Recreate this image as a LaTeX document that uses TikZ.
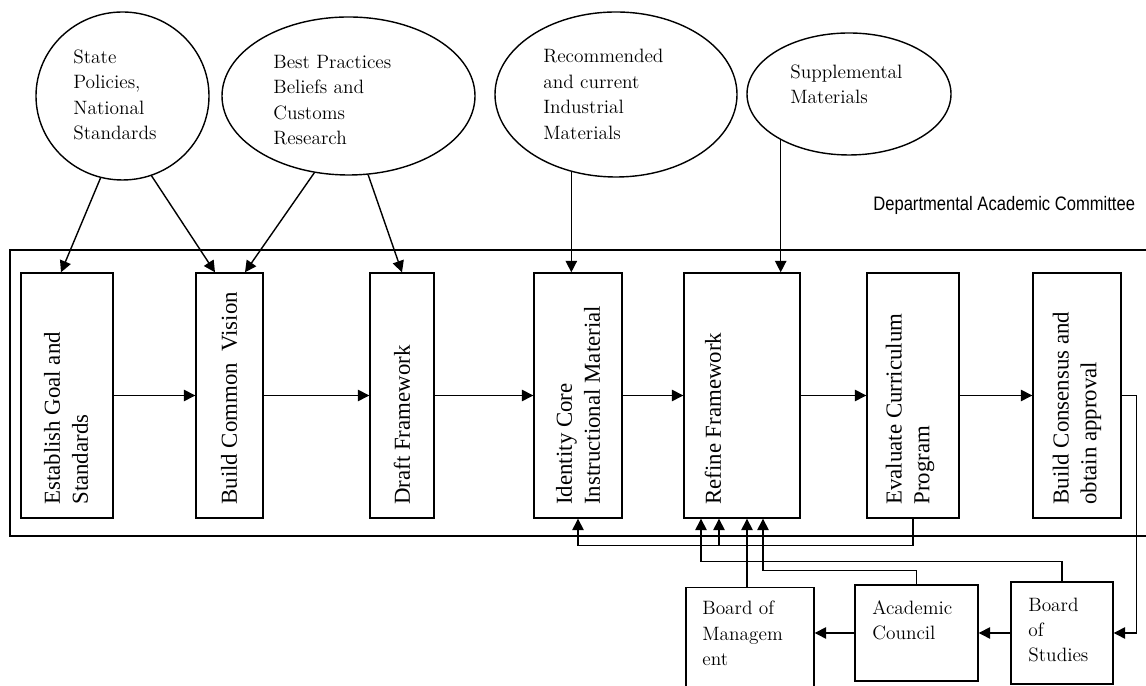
\documentclass[tikz,border=0pt]{standalone}
\usepackage{fontspec}
\newfontfamily\timesf{Liberation Serif}
\newfontfamily\narrowf{Liberation Sans}[FakeStretch=0.85]
\usetikzlibrary{shapes.geometric,arrows.meta}
\begin{document}
\begin{tikzpicture}
        \tikzset{box/.style={draw, line width=.8pt, inner sep=0em, minimum height=4.9cm},
          bub/.style={draw, ellipse, line width=.8pt, inner sep=0em},
          txt/.style={anchor=west, inner sep=0em, align=left, font=\fontsize{11}{14.5}\selectfont},
          vtxt/.style={anchor=west, rotate=90, inner sep=0em, align=left, font=\timesf\fontsize{13}{15.9}\selectfont},
          arr/.style={line width=.8pt, -{Triangle[length=6.5pt,width=6.5pt]}}}
        \useasboundingbox (0,0) rectangle (22.92,13.72);
        \clip (0,0) rectangle (22.92,13.72);

        % inputs
        \draw node[bub, minimum width=3.46cm, minimum height=3.36cm] (state) at (2.45,11.8) {};
        \draw node[bub, minimum width=5.06cm, minimum height=3.16cm] (best) at (6.97,11.8) {};
        \draw node[bub, minimum width=4.84cm, minimum height=3.3cm] (rec) at (12.32,11.83) {};
        \draw node[bub, minimum width=4.08cm, minimum height=2.44cm] (sup) at (16.98,11.84) {};
        \node[txt] (stateT) at (1.46,11.82) {State\\Policies,\\National\\Standards};
        \node[txt] (bestT) at (5.46,11.72) {Best Practices\\Beliefs and\\Customs\\Research};
        \node[txt] (recT) at (10.86,11.83) {Recommended\\and current\\Industrial\\Materials};
        \node[txt] (supT) at (15.8,12.03) {Supplemental\\Materials};

        % committee
        \draw[line width=.8pt] (0.2,3.0) rectangle (23.1,8.72);
        \node[anchor=west, inner sep=0em, font=\narrowf\fontsize{11.1}{13}\selectfont] (dept) at (17.46,9.62) {Departmental Academic Committee};

        \draw node[box, minimum width=1.84cm] (est) at (1.34,5.81) {};
        \draw node[box, minimum width=1.34cm] (vis) at (4.59,5.81) {};
        \draw node[box, minimum width=1.28cm] (dra) at (8.04,5.81) {};
        \draw node[box, minimum width=1.76cm] (ide) at (11.56,5.81) {};
        \draw node[box, minimum width=2.32cm] (ref) at (14.84,5.81) {};
        \draw node[box, minimum width=1.84cm] (eva) at (18.26,5.81) {};
        \draw node[box, minimum width=1.76cm] (con) at (21.54,5.81) {};
        \node[vtxt] (estT) at (1.32,3.62) {Establish Goal and\\Standards};
        \node[vtxt] (visT) at (4.58,3.62) {Build Common\ \ Vision};
        \node[vtxt] (draT) at (8.04,3.62) {Draft Framework};
        \node[vtxt] (ideT) at (11.56,3.62) {Identity Core\\Instructional Material};
        \node[vtxt] (refT) at (14.26,3.62) {Refine Framework};
        \node[vtxt] (evaT) at (18.2,3.62) {Evaluate Curriculum\\Program};
        \node[vtxt] (conT) at (21.54,3.62) {Build Consensus and\\obtain approval};

        % approval bodies
        \draw node[box, minimum width=2.56cm, minimum height=2.4cm, anchor=north] (bom) at (15.0,1.98) {};
        \draw node[box, minimum width=2.46cm, minimum height=1.92cm] (ac) at (18.33,1.06) {};
        \draw node[box, minimum width=2.04cm, minimum height=2.04cm] (bos) at (21.24,1.06) {};
        \node[txt] (bomT) at (14.04,1.05) {Board of\\Managem\\ent};
        \node[txt] (acT) at (17.44,1.31) {Academic\\Council};
        \node[txt] (bosT) at (20.56,1.12) {Board\\of\\Studies};

        \draw[arr] (state.-105) -- ([xshift=-.12cm]est.north);
        \draw[arr] (state.-70) -- ([xshift=-.29cm]vis.north);
        \draw[arr] (best.-114) -- ([xshift=.31cm]vis.north);
        \draw[arr] (best.-76) -- (dra.north);
        \draw[arr] (rec.-120) -- (rec.-120 |- ide.north);
        \draw[arr] (sup.-146) -- (sup.-146 |- ref.north);

        \draw[arr] (est) -- (vis);
        \draw[arr] (vis) -- (dra);
        \draw[arr] (dra) -- (ide);
        \draw[arr] (ide) -- (ref);
        \draw[arr] (ref) -- (eva);
        \draw[arr] (eva) -- (con);
        \draw[arr] (con.east) -- ++(.3,0) |- (bos.east);
        \draw[arr] (bos) -- (ac);
        \draw[arr] (ac.west) -- (ac.west -| bom.east);

        % feedback
        \draw[arr] (eva.south) -- ++(0,-.54) coordinate (fb) -| (ide.south);
        \draw[arr] ([xshift=-.46cm]ref.south |- fb) -- ([xshift=-.46cm]ref.south);
        \draw[arr] (bos.north) -- ++(0,.4) -| ([xshift=-.82cm]ref.south);
        \draw[arr] (ac.north) -- ++(0,.28) -| ([xshift=.42cm]ref.south);
        \draw[arr] ([xshift=.1cm]ref.south |- bom.north) -- ([xshift=.1cm]ref.south);
    \end{tikzpicture}
\end{document}
